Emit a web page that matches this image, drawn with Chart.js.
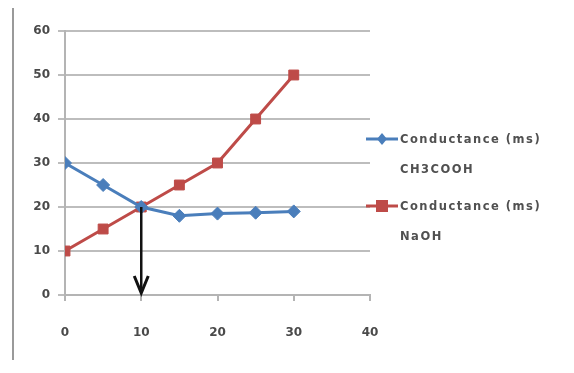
<!DOCTYPE html>
<html>
<head>
<meta charset="utf-8">
<script src="https://cdn.jsdelivr.net/npm/chart.js@4/dist/chart.umd.min.js"></script>
<style>
  html, body { margin: 0; padding: 0; background: #fff; }
  #wrap { position: relative; width: 574px; height: 373px; overflow: hidden; }
  #frame { position: absolute; left: 12px; top: 8px; width: 0; height: 352px; border-left: 2px solid #9a9a9a; }
  #chart { position: absolute; left: 0; top: 0; }
  #legend { position: absolute; left: 366px; top: 124px; font-family: "DejaVu Sans", sans-serif;
            font-weight: bold; font-size: 11.5px; color: #505050; letter-spacing: 1.5px; }
  .item { position: relative; padding-left: 34px; line-height: 30px; margin-bottom: 7px; }
  .item canvas { position: absolute; left: 0; top: 7px; }
  .item div { line-height: 30px; }
</style>
</head>
<body>
<div id="wrap">
  <div id="frame"></div>
  <canvas id="chart" width="574" height="373"></canvas>
  <div id="legend"></div>
</div>
<script>
// Volume of titrant added (x) and conductance readings
const volumes = [0, 5, 10, 15, 20, 25, 30];
const aceticConductance = [30, 25, 20, 18, 18.5, 18.7, 19];
const naohConductance = [10, 15, 20, 25, 30, 40, 50];
const seriesNames = [["Conductance (ms)", "CH3COOH"], ["Conductance (ms)", "NaOH"]];
const xTicks = [0, 10, 20, 30, 40];
const yTicks = [0, 10, 20, 30, 40, 50, 60];
// Equivalence point marker: arrow from the crossing down to the x axis
const arrowFrom = { x: 10, y: 20 };
const arrowTo = { x: 10, y: 0 };

const blue = '#4a7ebb';
const red = '#be4b48';

const toPoints = (xs, ys) => xs.map((x, i) => ({ x, y: ys[i] }));

const arrowPlugin = {
  id: 'equivArrow',
  afterDatasetsDraw(chart) {
    const { ctx, scales } = chart;
    const x1 = scales.x.getPixelForValue(arrowFrom.x);
    const y1 = scales.y.getPixelForValue(arrowFrom.y);
    const x2 = scales.x.getPixelForValue(arrowTo.x);
    const y2 = scales.y.getPixelForValue(arrowTo.y);
    ctx.save();
    ctx.strokeStyle = '#111';
    ctx.lineWidth = 2.5;
    ctx.beginPath();
    ctx.moveTo(x1, y1);
    ctx.lineTo(x2, y2 - 3);
    ctx.stroke();
    ctx.beginPath();
    ctx.moveTo(x2 - 7, y2 - 19);
    ctx.lineTo(x2, y2 - 2);
    ctx.lineTo(x2 + 7, y2 - 19);
    ctx.lineWidth = 3;
    ctx.stroke();
    ctx.restore();
  }
};

const tickFont = { family: "DejaVu Sans", size: 12, weight: 'bold' };

new Chart(document.getElementById('chart'), {
  type: 'scatter',
  data: {
    datasets: [
      {
        label: seriesNames[0].join(' '),
        data: toPoints(volumes, aceticConductance),
        showLine: true,
        borderColor: blue,
        backgroundColor: blue,
        borderWidth: 3,
        pointStyle: 'rectRot',
        pointRadius: 6.5,
        pointBorderWidth: 1
      },
      {
        label: seriesNames[1].join(' '),
        data: toPoints(volumes, naohConductance),
        showLine: true,
        borderColor: red,
        backgroundColor: red,
        borderWidth: 3,
        pointStyle: 'rect',
        pointRadius: 7,
        pointBorderWidth: 1
      }
    ]
  },
  options: {
    responsive: false,
    animation: false,
    layout: { padding: { left: 0, top: 31, right: 204, bottom: 0 } },
    plugins: { legend: { display: false }, tooltip: { enabled: false } },
    scales: {
      x: {
        type: 'linear',
        min: 0, max: 40,
        afterBuildTicks: s => { s.ticks = xTicks.map(v => ({ value: v })); },
        afterFit: s => { s.height = 78; },
        grid: { display: true, drawOnChartArea: false, drawTicks: true, tickLength: 6, color: '#b4b4b4', lineWidth: 2 },
        border: { display: true, color: '#b4b4b4', width: 2 },
        ticks: { color: '#4a4a4a', font: tickFont, padding: 25, maxRotation: 0 }
      },
      y: {
        type: 'linear',
        min: 0, max: 60,
        afterBuildTicks: s => { s.ticks = yTicks.map(v => ({ value: v })); },
        afterFit: s => { s.width = 65; },
        grid: { color: '#bdbdbd', lineWidth: 2, drawTicks: true, tickLength: 7 },
        border: { display: true, color: '#b4b4b4', width: 2 },
        ticks: { color: '#4a4a4a', font: tickFont, padding: 8 }
      }
    }
  },
  plugins: [arrowPlugin]
});

// Two-line legend entries beside the plot
const legend = document.getElementById('legend');
[[blue, 'diamond'], [red, 'square']].forEach(([color, shape], i) => {
  const item = document.createElement('div');
  item.className = 'item';
  const c = document.createElement('canvas');
  c.width = 32; c.height = 16;
  const g = c.getContext('2d');
  g.strokeStyle = color; g.fillStyle = color; g.lineWidth = 3;
  g.beginPath(); g.moveTo(0, 8); g.lineTo(32, 8); g.stroke();
  g.beginPath();
  if (shape === 'diamond') {
    g.moveTo(16, 2); g.lineTo(21, 8); g.lineTo(16, 14); g.lineTo(11, 8); g.closePath();
  } else {
    g.rect(10, 2, 12, 12);
  }
  g.fill();
  item.appendChild(c);
  seriesNames[i].forEach(t => {
    const line = document.createElement('div');
    line.textContent = t;
    item.appendChild(line);
  });
  legend.appendChild(item);
});
</script>
</body>
</html>
